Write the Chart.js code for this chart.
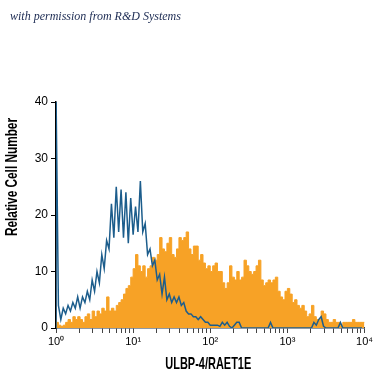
<!DOCTYPE html>
<html>
<head>
<meta charset="utf-8">
<script src="https://cdn.jsdelivr.net/npm/chart.js@4.4.1/dist/chart.umd.min.js"></script>
<style>
  html, body { margin: 0; padding: 0; background: #fff; }
  .wrap { position: relative; width: 375px; height: 375px; }
  .credit { position: absolute; left: 10px; top: 9px; font: italic 12px "Liberation Serif", serif; color: #1b2a52; white-space: nowrap; }
</style>
</head>
<body>
<div class="wrap">
  <canvas id="myCanvas" width="375" height="375"></canvas>
  <div class="credit">with permission from R&amp;D Systems</div>
</div>
<script>
// 128 channels over 4 decades, 32 per decade
const binsPerDecade = 32;
const decadeLabels = ["10⁰", "10¹", "10²", "10³", "10⁴"];
const yTickValues = [0, 10, 20, 30, 40];
const xTitle = "ULBP-4/RAET1E";
const yTitle = "Relative Cell Number";

// isotype control (blue outline)
const isotypeCounts = [
  42, 4, 1.5, 3.5, 2.5, 4, 3, 4.5, 3.5, 5.5, 3.5, 5.5, 4.5, 6.5, 5, 8.5,
  6.5, 10, 8, 13, 10.5, 15.5, 14, 22, 16, 25, 17, 24.5, 16, 24, 15, 23,
  16.5, 21.5, 17, 26, 17, 18.5, 13, 14, 11, 12, 8.5, 9.5, 6, 9, 5, 6,
  4.5, 5.5, 4.5, 5.5, 4, 4.5, 3, 2.5, 2.5, 2, 2, 1.5, 2, 1.5, 1, 1,
  0.5, 0.5, 0.5, 0.5, 0.3, 1, 0.5, 1, 0.3, 0, 0.5, 1, 1, 0, 0, 0,
  0, 0, 0, 0, 0, 0, 0, 0, 0, 1, 0, 0, 0, 0, 0, 0,
  0, 0, 0, 0, 0, 0, 0, 0, 0, 0, 0, 1, 0.5, 1.5, 2, 0.3,
  0, 0, 0, 0, 0, 0, 1, 0, 0, 0, 0, 0, 0, 0, 0, 0
];

// ULBP-4/RAET1E stained (orange filled)
const ulbpCounts = [
  1.5, 1, 0.5, 0.3, 0.5, 1, 1.5, 1, 2, 1.5, 2, 1.5, 1, 2, 2.5, 1.5,
  3, 2, 3, 2.5, 3.5, 3, 5.5, 3, 3.5, 3, 4, 4.5, 5, 6, 7, 7.5,
  9, 10.5, 13, 11, 10, 11, 9, 10.5, 11, 12.5, 12, 13, 16, 14, 13.5, 15,
  16, 13, 12.5, 14, 16, 15.5, 16, 17, 14, 13, 14.5, 14.5, 12, 13, 11.5, 10.5,
  11, 10, 11, 11.5, 10, 10, 8, 7, 8, 11, 9, 8.5, 10, 8.5, 9, 12,
  11, 10, 9.5, 10, 11, 12, 8.5, 7.5, 8, 8.5, 8, 8.5, 9, 6.5, 5.5, 5,
  6.5, 7, 6, 4.5, 5, 4, 3.5, 4, 3, 2, 2.5, 4, 2, 1.5, 1.5, 3,
  2.5, 1.5, 1, 1, 1.5, 1, 1, 0.5, 1, 1, 1, 1, 1.5, 1, 1, 1
];

const nBins = isotypeCounts.length;

// outline: start on the baseline, one point per channel
function toLine(counts) {
  let pts = [{ x: 0, y: 0 }];
  counts.forEach((v, i) => pts.push({ x: i, y: v }));
  return pts;
}

// filled histogram: one step per channel
function toSteps(counts) {
  let pts = counts.map((v, i) => ({ x: i, y: v }));
  pts.push({ x: counts.length, y: counts[counts.length - 1] });
  return pts;
}

const sans = "'Liberation Sans', Arial, sans-serif";

// condensed bold titles, squeezed to the width seen in the picture
function drawSqueezed(ctx, text, x, y, size, width, rotate) {
  ctx.save();
  ctx.font = "bold " + size + "px " + sans;
  const w = ctx.measureText(text).width;
  ctx.translate(x, y);
  if (rotate) ctx.rotate(-Math.PI / 2);
  ctx.scale(width / w, 1);
  ctx.fillStyle = "#000";
  ctx.textAlign = "center";
  ctx.textBaseline = "middle";
  ctx.fillText(text, 0, 0);
  ctx.restore();
}

const titlePlugin = {
  id: "titles",
  afterDraw(chart) {
    const ctx = chart.ctx;
    const area = chart.chartArea;
    drawSqueezed(ctx, yTitle, 13, 177, 16, 118, true);
    drawSqueezed(ctx, xTitle, (area.left + area.right) / 2 - 2, 364, 17, 86, false);
  },
};

const canvas = document.querySelector("#myCanvas");

const data = {
  datasets: [
    {
      label: "Isotype",
      data: toLine(isotypeCounts),
      borderColor: "#1c5d8c",
      borderWidth: 1.5,
      pointRadius: 0,
      tension: 0,
      fill: false,
    },
    {
      label: "ULBP-4",
      data: toSteps(ulbpCounts),
      borderColor: "#f7a226",
      backgroundColor: "#f7a226",
      borderWidth: 1,
      stepped: "after",
      pointRadius: 0,
      fill: "origin",
    },
  ],
};

const config = {
  type: "line",
  data: data,
  plugins: [titlePlugin],
  options: {
    responsive: false,
    animation: false,
    devicePixelRatio: 1,
    layout: { padding: { top: 102, right: 7, left: 0, bottom: 0 } },
    plugins: { legend: { display: false }, tooltip: { enabled: false } },
    scales: {
      x: {
        type: "linear",
        min: 0,
        max: nBins,
        afterBuildTicks(scale) {
          let ticks = [];
          for (let d = 0; d < decadeLabels.length; d++) {
            ticks.push({ value: d * binsPerDecade });
            if (d < decadeLabels.length - 1) {
              for (let k = 2; k <= 9; k++) {
                ticks.push({ value: binsPerDecade * (d + Math.log10(k)) });
              }
            }
          }
          scale.ticks = ticks;
        },
        afterFit(scale) {
          scale.height = 47;
        },
        ticks: {
          autoSkip: false,
          maxRotation: 0,
          padding: 2,
          color: "#000",
          font: { family: sans, size: 11 },
          callback: (v) => (v % binsPerDecade === 0 ? decadeLabels[v / binsPerDecade] : ""),
        },
        grid: { drawOnChartArea: false, tickLength: 5, color: "#444", lineWidth: 1 },
        border: { color: "#1e3550", width: 1.5 },
      },
      y: {
        min: 0,
        max: 40,
        afterBuildTicks(scale) {
          scale.ticks = yTickValues.map((v) => ({ value: v }));
        },
        afterFit(scale) {
          scale.width = 56;
        },
        ticks: {
          padding: 3,
          color: "#000",
          font: { family: sans, size: 12 },
        },
        grid: { drawOnChartArea: false, tickLength: 5, color: "#000", lineWidth: 1 },
        border: { color: "#000", width: 1.5 },
      },
    },
  },
};

const myChart = new Chart(canvas, config);
</script>
</body>
</html>
